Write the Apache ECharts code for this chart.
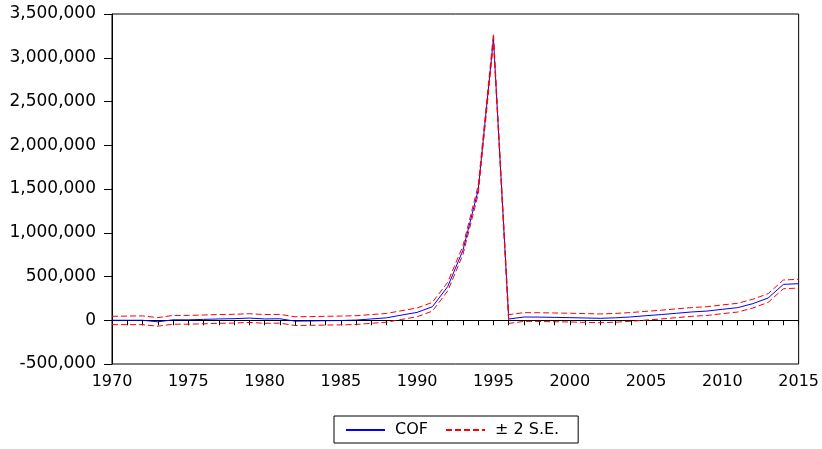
<!DOCTYPE html>
<html>
<head>
<meta charset="utf-8">
<script src="https://cdn.jsdelivr.net/npm/echarts@6/dist/echarts.min.js"></script>
<style>
html,body{margin:0;padding:0;background:#fff;}
#chart{width:822px;height:449px;}
</style>
</head>
<body>
<div id="chart"></div>
<script>
var years = [1970,1971,1972,1973,1974,1975,1976,1977,1978,1979,
             1980,1981,1982,1983,1984,1985,1986,1987,1988,1989,
             1990,1991,1992,1993,1994,1995,1996,1997,1998,1999,
             2000,2001,2002,2003,2004,2005,2006,2007,2008,2009,
             2010,2011,2012,2013,2014,2015];
var cof = [0,0,0,-18000,5000,5000,10000,15000,18000,25000,
           15000,17000,-10000,-8000,-5000,-3000,2000,15000,28000,60000,
           90000,155000,384000,800000,1490000,3220000,14000,37000,36000,33000,
           30000,26000,22000,28000,38000,52000,65000,80000,95000,105000,
           125000,144000,190000,254000,410000,418000];
var upperSE = [45000,48000,50000,30000,55000,55000,60000,65000,68000,75000,
               65000,67000,40000,42000,45000,48000,52000,65000,78000,110000,
               140000,205000,434000,850000,1540000,3275000,64000,87000,86000,83000,
               80000,76000,72000,78000,88000,102000,115000,130000,145000,155000,
               175000,194000,240000,304000,460000,468000];
var lowerSE = [-50000,-50000,-50000,-68000,-45000,-45000,-40000,-35000,-32000,-25000,
               -35000,-33000,-60000,-58000,-55000,-53000,-48000,-35000,-22000,10000,
               40000,105000,334000,750000,1440000,3170000,-36000,-13000,-14000,-17000,
               -20000,-24000,-28000,-22000,-12000,2000,15000,30000,45000,55000,
               75000,94000,140000,204000,360000,368000];
var yTicks = {min:-500000, max:3500000, interval:500000};
var xTicks = {min:1970, max:2015, interval:5};

function pairs(vals){ return years.map(function(y,i){ return [y, vals[i]]; }); }
function commas(v){
  var neg = v < 0; var s = String(Math.abs(v));
  s = s.replace(/\B(?=(\d{3})+(?!\d))/g, ',');
  return (neg ? '-' : '') + s;
}

var chart = echarts.init(document.getElementById('chart'), null, {renderer:'canvas'});
var font = 'DejaVu Sans';
chart.setOption({
  animation:false,
  backgroundColor:'#fff',
  grid:{left:112, right:22, top:14, bottom:85, show:true, borderColor:'#000', borderWidth:1, backgroundColor:'transparent'},
  xAxis:{
    type:'value', min:xTicks.min, max:xTicks.max, interval:xTicks.interval,
    axisLine:{show:true, lineStyle:{color:'#000', width:1}},
    axisTick:{show:true, inside:false, length:5, lineStyle:{color:'#000'}},
    minorTick:{show:true, splitNumber:5, length:5, lineStyle:{color:'#000'}},
    splitLine:{show:false},
    axisLabel:{color:'#000', fontFamily:font, fontSize:16, margin:10, formatter:function(v){return String(v);}}
  },
  yAxis:{
    type:'value', min:yTicks.min, max:yTicks.max, interval:yTicks.interval,
    axisLine:{show:true, lineStyle:{color:'#000', width:1}},
    axisTick:{show:true, inside:false, length:8, lineStyle:{color:'#000'}},
    splitLine:{show:false},
    axisLabel:{color:'#000', fontFamily:font, fontSize:17, margin:16, formatter:function(v){return commas(v);}}
  },
  legend:{
    left:334, top:416, orient:'horizontal',
    backgroundColor:'#fff', borderColor:'#000', borderWidth:1,
    padding:[6,19,5,11], itemGap:17, itemWidth:39, itemHeight:14,
    itemStyle:{opacity:0},
    textStyle:{color:'#000', fontFamily:font, fontSize:16, padding:[0,0,0,5]},
    data:['COF','± 2 S.E.']
  },
  series:[
    {name:'COF', type:'line', data:pairs(cof), showSymbol:false, symbol:'none',
     lineStyle:{color:'#0000ff', width:1}, itemStyle:{color:'#0000ff'}, z:2},
    {name:'± 2 S.E.', type:'line', data:pairs(upperSE), showSymbol:false, symbol:'none',
     lineStyle:{color:'#ff0000', width:1, type:[6,3]}, itemStyle:{color:'#ff0000'}, z:3},
    {name:'± 2 S.E.', type:'line', data:pairs(lowerSE), showSymbol:false, symbol:'none',
     lineStyle:{color:'#ff0000', width:1, type:[6,3]}, itemStyle:{color:'#ff0000'}, z:3}
  ]
});
</script>
</body>
</html>
